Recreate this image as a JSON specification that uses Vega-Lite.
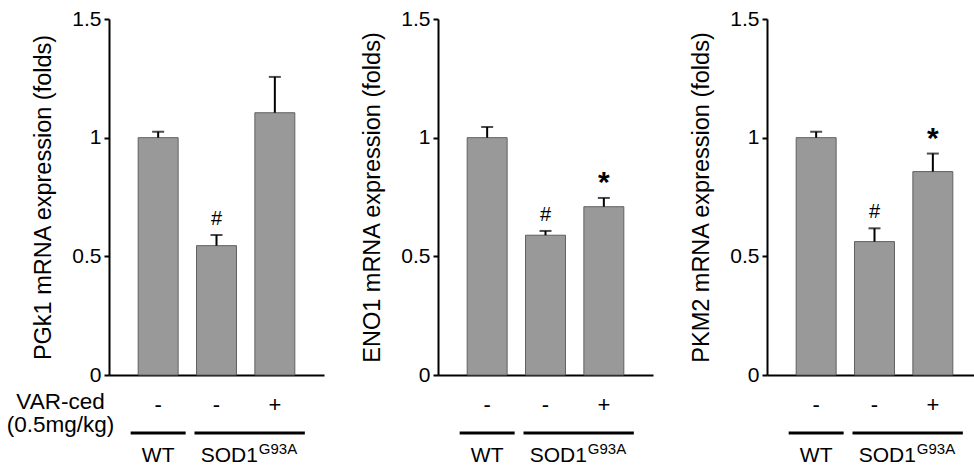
{
  "$schema": "https://vega.github.io/schema/vega-lite/v6.json",
  "padding": {"left": 6, "top": 8, "right": 0, "bottom": 0},
  "spacing": 114,
  "bounds": "flush",
  "datasets": {
    "pgk1": [
      {"cond": "WT -", "value": 1.0, "hi": 1.025, "sig": ""},
      {"cond": "SOD1 -", "value": 0.545, "hi": 0.59, "sig": "#"},
      {"cond": "SOD1 +", "value": 1.105, "hi": 1.256, "sig": ""}
    ],
    "eno1": [
      {"cond": "WT -", "value": 1.0, "hi": 1.045, "sig": ""},
      {"cond": "SOD1 -", "value": 0.589, "hi": 0.607, "sig": "#"},
      {"cond": "SOD1 +", "value": 0.709, "hi": 0.746, "sig": "*"}
    ],
    "pkm2": [
      {"cond": "WT -", "value": 1.0, "hi": 1.025, "sig": ""},
      {"cond": "SOD1 -", "value": 0.562, "hi": 0.618, "sig": "#"},
      {"cond": "SOD1 +", "value": 0.857, "hi": 0.933, "sig": "*"}
    ],
    "groups": [
      {"cond": "WT -", "last": "WT -", "name": "WT", "sup": ""},
      {"cond": "SOD1 -", "last": "SOD1 +", "name": "SOD1", "sup": "G93A"}
    ]
  },
  "hconcat": [
    {
      "width": 215, "height": 356,
      "layer": [
        {"data": {"name": "pgk1"}, "mark": {"type": "bar", "fill": "#999999", "stroke": "#606060", "strokeWidth": 1},
         "encoding": {
           "x": {"field": "cond", "type": "nominal", "scale": {"domain": ["WT -", "SOD1 -", "SOD1 +"], "paddingInner": 0.315, "paddingOuter": 0.5},
                 "axis": {"labelExpr": "slice(datum.label, -1)", "title": ["VAR-ced", "(0.5mg/kg)"], "titleX": -49, "titleY": 33, "titleAlign": "center", "titleBaseline": "alphabetic", "titleFontSize": 22.5, "titleLineHeight": 23, "titleAngle": 0}},
           "y": {"field": "value", "type": "quantitative", "scale": {"domain": [0, 1.5], "nice": false},
                 "axis": {"title": "PGk1 mRNA expression (folds)", "values": [0, 0.5, 1, 1.5], "format": ".1~f"}}
         }},
        {"data": {"name": "pgk1"}, "mark": {"type": "rule", "color": "black", "strokeWidth": 2},
         "encoding": {"x": {"field": "cond", "type": "nominal"}, "y": {"field": "value", "type": "quantitative"}, "y2": {"field": "hi"}}},
        {"data": {"name": "pgk1"}, "mark": {"type": "tick", "color": "black", "thickness": 2, "size": 12, "orient": "horizontal"},
         "encoding": {"x": {"field": "cond", "type": "nominal"}, "y": {"field": "hi", "type": "quantitative"}}},
        {"data": {"name": "pgk1"}, "transform": [{"filter": "datum.sig === '#'"}], "mark": {"type": "text", "fontSize": 20, "baseline": "alphabetic", "dy": -10, "color": "black"},
         "encoding": {"x": {"field": "cond", "type": "nominal"}, "y": {"field": "hi", "type": "quantitative"}, "text": {"field": "sig"}}},
        {"data": {"name": "pgk1"}, "transform": [{"filter": "datum.sig === '*'"}], "mark": {"type": "text", "fontSize": 30, "fontWeight": "bold", "baseline": "alphabetic", "dy": -6, "color": "black"},
         "encoding": {"x": {"field": "cond", "type": "nominal"}, "y": {"field": "hi", "type": "quantitative"}, "text": {"field": "sig"}}},
        {"data": {"name": "groups"}, "transform": [{"filter": "datum.name === 'WT'"}], "mark": {"type": "rule", "color": "black", "strokeWidth": 3, "xOffset": -27.5, "x2Offset": 27.5, "yOffset": 58},
         "encoding": {"x": {"field": "cond", "type": "nominal"}, "x2": {"field": "last"}, "y": {"datum": 0, "type": "quantitative"}}},
        {"data": {"name": "groups"}, "transform": [{"filter": "datum.name === 'SOD1'"}], "mark": {"type": "rule", "color": "black", "strokeWidth": 3, "xOffset": -22, "x2Offset": 30, "yOffset": 58},
         "encoding": {"x": {"field": "cond", "type": "nominal"}, "x2": {"field": "last"}, "y": {"datum": 0, "type": "quantitative"}}},
        {"data": {"name": "groups"}, "transform": [{"filter": "datum.name === 'WT'"}], "mark": {"type": "text", "fontSize": 21, "align": "center", "baseline": "alphabetic", "dy": 87, "color": "black"},
         "encoding": {"x": {"field": "last", "type": "nominal"}, "y": {"datum": 0, "type": "quantitative"}, "text": {"field": "name"}}},
        {"data": {"name": "groups"}, "transform": [{"filter": "datum.name === 'SOD1'"}], "mark": {"type": "text", "fontSize": 21, "align": "right", "baseline": "alphabetic", "dx": -17, "dy": 87, "color": "black"},
         "encoding": {"x": {"field": "last", "type": "nominal"}, "y": {"datum": 0, "type": "quantitative"}, "text": {"field": "name"}}},
        {"data": {"name": "groups"}, "transform": [{"filter": "datum.sup !== ''"}], "mark": {"type": "text", "fontSize": 15, "align": "left", "baseline": "alphabetic", "dx": -16, "dy": 79, "color": "black"},
         "encoding": {"x": {"field": "last", "type": "nominal"}, "y": {"datum": 0, "type": "quantitative"}, "text": {"field": "sup"}}}
      ]
    },
    {
      "width": 215, "height": 356,
      "layer": [
        {"data": {"name": "eno1"}, "mark": {"type": "bar", "fill": "#999999", "stroke": "#606060", "strokeWidth": 1},
         "encoding": {
           "x": {"field": "cond", "type": "nominal", "scale": {"domain": ["WT -", "SOD1 -", "SOD1 +"], "paddingInner": 0.315, "paddingOuter": 0.5},
                 "axis": {"labelExpr": "slice(datum.label, -1)", "title": null}},
           "y": {"field": "value", "type": "quantitative", "scale": {"domain": [0, 1.5], "nice": false},
                 "axis": {"title": "ENO1 mRNA expression (folds)", "values": [0, 0.5, 1, 1.5], "format": ".1~f"}}
         }},
        {"data": {"name": "eno1"}, "mark": {"type": "rule", "color": "black", "strokeWidth": 2},
         "encoding": {"x": {"field": "cond", "type": "nominal"}, "y": {"field": "value", "type": "quantitative"}, "y2": {"field": "hi"}}},
        {"data": {"name": "eno1"}, "mark": {"type": "tick", "color": "black", "thickness": 2, "size": 12, "orient": "horizontal"},
         "encoding": {"x": {"field": "cond", "type": "nominal"}, "y": {"field": "hi", "type": "quantitative"}}},
        {"data": {"name": "eno1"}, "transform": [{"filter": "datum.sig === '#'"}], "mark": {"type": "text", "fontSize": 20, "baseline": "alphabetic", "dy": -10, "color": "black"},
         "encoding": {"x": {"field": "cond", "type": "nominal"}, "y": {"field": "hi", "type": "quantitative"}, "text": {"field": "sig"}}},
        {"data": {"name": "eno1"}, "transform": [{"filter": "datum.sig === '*'"}], "mark": {"type": "text", "fontSize": 30, "fontWeight": "bold", "baseline": "alphabetic", "dy": -6, "color": "black"},
         "encoding": {"x": {"field": "cond", "type": "nominal"}, "y": {"field": "hi", "type": "quantitative"}, "text": {"field": "sig"}}},
        {"data": {"name": "groups"}, "transform": [{"filter": "datum.name === 'WT'"}], "mark": {"type": "rule", "color": "black", "strokeWidth": 3, "xOffset": -27.5, "x2Offset": 27.5, "yOffset": 58},
         "encoding": {"x": {"field": "cond", "type": "nominal"}, "x2": {"field": "last"}, "y": {"datum": 0, "type": "quantitative"}}},
        {"data": {"name": "groups"}, "transform": [{"filter": "datum.name === 'SOD1'"}], "mark": {"type": "rule", "color": "black", "strokeWidth": 3, "xOffset": -22, "x2Offset": 30, "yOffset": 58},
         "encoding": {"x": {"field": "cond", "type": "nominal"}, "x2": {"field": "last"}, "y": {"datum": 0, "type": "quantitative"}}},
        {"data": {"name": "groups"}, "transform": [{"filter": "datum.name === 'WT'"}], "mark": {"type": "text", "fontSize": 21, "align": "center", "baseline": "alphabetic", "dy": 87, "color": "black"},
         "encoding": {"x": {"field": "last", "type": "nominal"}, "y": {"datum": 0, "type": "quantitative"}, "text": {"field": "name"}}},
        {"data": {"name": "groups"}, "transform": [{"filter": "datum.name === 'SOD1'"}], "mark": {"type": "text", "fontSize": 21, "align": "right", "baseline": "alphabetic", "dx": -17, "dy": 87, "color": "black"},
         "encoding": {"x": {"field": "last", "type": "nominal"}, "y": {"datum": 0, "type": "quantitative"}, "text": {"field": "name"}}},
        {"data": {"name": "groups"}, "transform": [{"filter": "datum.sup !== ''"}], "mark": {"type": "text", "fontSize": 15, "align": "left", "baseline": "alphabetic", "dx": -16, "dy": 79, "color": "black"},
         "encoding": {"x": {"field": "last", "type": "nominal"}, "y": {"datum": 0, "type": "quantitative"}, "text": {"field": "sup"}}}
      ]
    },
    {
      "width": 215, "height": 356,
      "layer": [
        {"data": {"name": "pkm2"}, "mark": {"type": "bar", "fill": "#999999", "stroke": "#606060", "strokeWidth": 1},
         "encoding": {
           "x": {"field": "cond", "type": "nominal", "scale": {"domain": ["WT -", "SOD1 -", "SOD1 +"], "paddingInner": 0.315, "paddingOuter": 0.5},
                 "axis": {"labelExpr": "slice(datum.label, -1)", "title": null}},
           "y": {"field": "value", "type": "quantitative", "scale": {"domain": [0, 1.5], "nice": false},
                 "axis": {"title": "PKM2 mRNA expression (folds)", "values": [0, 0.5, 1, 1.5], "format": ".1~f"}}
         }},
        {"data": {"name": "pkm2"}, "mark": {"type": "rule", "color": "black", "strokeWidth": 2},
         "encoding": {"x": {"field": "cond", "type": "nominal"}, "y": {"field": "value", "type": "quantitative"}, "y2": {"field": "hi"}}},
        {"data": {"name": "pkm2"}, "mark": {"type": "tick", "color": "black", "thickness": 2, "size": 12, "orient": "horizontal"},
         "encoding": {"x": {"field": "cond", "type": "nominal"}, "y": {"field": "hi", "type": "quantitative"}}},
        {"data": {"name": "pkm2"}, "transform": [{"filter": "datum.sig === '#'"}], "mark": {"type": "text", "fontSize": 20, "baseline": "alphabetic", "dy": -10, "color": "black"},
         "encoding": {"x": {"field": "cond", "type": "nominal"}, "y": {"field": "hi", "type": "quantitative"}, "text": {"field": "sig"}}},
        {"data": {"name": "pkm2"}, "transform": [{"filter": "datum.sig === '*'"}], "mark": {"type": "text", "fontSize": 30, "fontWeight": "bold", "baseline": "alphabetic", "dy": -6, "color": "black"},
         "encoding": {"x": {"field": "cond", "type": "nominal"}, "y": {"field": "hi", "type": "quantitative"}, "text": {"field": "sig"}}},
        {"data": {"name": "groups"}, "transform": [{"filter": "datum.name === 'WT'"}], "mark": {"type": "rule", "color": "black", "strokeWidth": 3, "xOffset": -27.5, "x2Offset": 27.5, "yOffset": 58},
         "encoding": {"x": {"field": "cond", "type": "nominal"}, "x2": {"field": "last"}, "y": {"datum": 0, "type": "quantitative"}}},
        {"data": {"name": "groups"}, "transform": [{"filter": "datum.name === 'SOD1'"}], "mark": {"type": "rule", "color": "black", "strokeWidth": 3, "xOffset": -22, "x2Offset": 30, "yOffset": 58},
         "encoding": {"x": {"field": "cond", "type": "nominal"}, "x2": {"field": "last"}, "y": {"datum": 0, "type": "quantitative"}}},
        {"data": {"name": "groups"}, "transform": [{"filter": "datum.name === 'WT'"}], "mark": {"type": "text", "fontSize": 21, "align": "center", "baseline": "alphabetic", "dy": 87, "color": "black"},
         "encoding": {"x": {"field": "last", "type": "nominal"}, "y": {"datum": 0, "type": "quantitative"}, "text": {"field": "name"}}},
        {"data": {"name": "groups"}, "transform": [{"filter": "datum.name === 'SOD1'"}], "mark": {"type": "text", "fontSize": 21, "align": "right", "baseline": "alphabetic", "dx": -17, "dy": 87, "color": "black"},
         "encoding": {"x": {"field": "last", "type": "nominal"}, "y": {"datum": 0, "type": "quantitative"}, "text": {"field": "name"}}},
        {"data": {"name": "groups"}, "transform": [{"filter": "datum.sup !== ''"}], "mark": {"type": "text", "fontSize": 15, "align": "left", "baseline": "alphabetic", "dx": -16, "dy": 79, "color": "black"},
         "encoding": {"x": {"field": "last", "type": "nominal"}, "y": {"datum": 0, "type": "quantitative"}, "text": {"field": "sup"}}}
      ]
    }
  ],
  "config": {
    "font": "Liberation Sans",
    "view": {"stroke": null},
    "axis": {"labelFont": "Liberation Sans", "titleFont": "Liberation Sans", "labelColor": "black", "titleColor": "black", "domainColor": "black", "domainWidth": 2, "tickColor": "black", "grid": false, "titleFontWeight": "normal"},
    "axisY": {"tickSize": 5, "tickWidth": 2, "labelFontSize": 21, "labelPadding": 3, "titleFontSize": 23.5, "titlePadding": 16},
    "axisX": {"ticks": false, "labelFontSize": 22, "labelPadding": 19, "labelAngle": 0}
  }
}
